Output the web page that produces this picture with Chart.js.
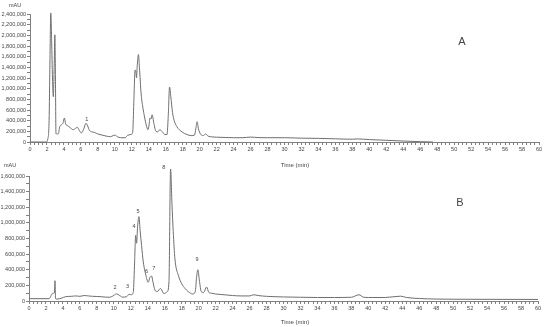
<!DOCTYPE html>
<html>
<head>
<meta charset="utf-8">
<script src="https://cdn.jsdelivr.net/npm/chart.js@4/dist/chart.umd.min.js"></script>
<style>
  body { margin: 0; background: #fff; }
  .panel { position: absolute; left: 0; }
</style>
</head>
<body>
<div class="panel" style="top:0px"><canvas id="chartA" width="550" height="170"></canvas></div>
<div class="panel" style="top:158px"><canvas id="chartB" width="550" height="169"></canvas></div>
<script>
// chromatogram A: retention time (min) and absorbance (mAU)
const timeA = [0, 1.9, 2.1, 2.25, 2.35, 2.45, 2.55, 2.65, 2.75, 2.85, 2.93, 3.0, 3.06, 3.15, 3.35, 3.5, 3.7, 3.9, 4.05, 4.2,
  4.5, 4.8, 5.1, 5.4, 5.6, 5.8, 6.05, 6.3, 6.6, 6.8, 7.0, 7.3, 7.6, 8.0, 8.5, 9.0, 9.5, 9.8, 10.0, 10.3,
  10.7, 11.2, 11.5, 11.9, 12.1, 12.25, 12.38, 12.48, 12.55, 12.65, 12.78, 12.9, 13.1, 13.3, 13.5, 13.7, 13.9, 14.0, 14.15, 14.25,
  14.4, 14.6, 14.85, 15.05, 15.3, 15.6, 15.9, 16.15, 16.3, 16.45, 16.6, 16.8, 17.0, 17.3, 17.6, 18.0, 18.5, 19.0, 19.4, 19.55,
  19.7, 19.85, 20.1, 20.4, 20.7, 21.0, 21.5, 22, 23, 24, 25, 26, 27, 28, 30, 32, 34, 36, 38, 38.6,
  40, 42, 44, 46, 47.5];
const signalA = [0, 0, 60000, 400000, 1500000, 2420000, 1900000, 1200000, 850000, 1400000, 2010000, 1200000, 160000, 150000, 155000, 290000, 320000, 360000, 450000, 340000,
  300000, 260000, 230000, 260000, 275000, 220000, 170000, 230000, 350000, 300000, 220000, 190000, 180000, 150000, 130000, 110000, 100000, 120000, 130000, 100000,
  80000, 80000, 125000, 140000, 180000, 800000, 1350000, 1320000, 1200000, 1450000, 1640000, 1400000, 900000, 650000, 470000, 320000, 230000, 280000, 450000, 430000,
  510000, 350000, 200000, 190000, 230000, 190000, 140000, 140000, 500000, 1030000, 850000, 550000, 400000, 290000, 230000, 180000, 140000, 120000, 130000, 250000,
  380000, 250000, 150000, 120000, 150000, 110000, 95000, 90000, 85000, 80000, 80000, 92000, 82000, 80000, 80000, 72000, 68000, 60000, 52000, 58000,
  45000, 32000, 18000, 6000, 0];
const peakNamesA = ['1'];
const peakTimesA = [6.7];
const peakLabelHeightsA = [420000];

// chromatogram B
const timeB = [0, 2.4, 2.6, 2.8, 3.0, 3.06, 3.13, 3.3, 3.8, 4.3, 5.0, 5.5, 6.0, 6.5, 7.0, 7.5, 8.0, 8.5, 9.0, 9.5,
  9.9, 10.3, 10.7, 11.0, 11.5, 11.8, 12.1, 12.3, 12.45, 12.57, 12.68, 12.8, 12.96, 13.1, 13.27, 13.47, 13.78, 14.05, 14.25, 14.45,
  14.6, 14.84, 15.1, 15.5, 15.9, 16.3, 16.5, 16.69, 16.85, 17.0, 17.2, 17.6, 18.0, 18.4, 18.77, 19.3, 19.6, 19.75, 19.9, 20.1,
  20.3, 20.6, 20.93, 21.2, 21.5, 22, 23, 24, 25, 26, 26.5, 27, 28, 30, 32, 34, 36, 38, 38.9, 39.4,
  40, 42, 43.8, 44.5, 46, 48, 52, 60];
const signalB = [30000, 30000, 70000, 100000, 105000, 260000, 30000, 25000, 35000, 55000, 60000, 65000, 60000, 70000, 65000, 60000, 58000, 55000, 50000, 48000,
  65000, 90000, 70000, 50000, 55000, 85000, 80000, 120000, 500000, 840000, 740000, 950000, 1080000, 900000, 710000, 500000, 330000, 240000, 300000, 320000,
  250000, 140000, 120000, 160000, 95000, 120000, 250000, 1690000, 1250000, 890000, 540000, 330000, 220000, 160000, 120000, 90000, 120000, 300000, 400000, 250000,
  120000, 110000, 180000, 110000, 100000, 90000, 80000, 70000, 65000, 65000, 80000, 70000, 60000, 52000, 48000, 45000, 45000, 48000, 80000, 50000,
  45000, 45000, 62000, 45000, 32000, 25000, 22000, 20000];
const peakNamesB = ['2', '3', '4', '5', '6', '7', '8', '9'];
const peakTimesB = [10.13, 11.6, 12.37, 12.84, 13.86, 14.72, 15.9, 19.82];
const peakLabelHeightsB = [170000, 180000, 950000, 1150000, 380000, 420000, 1710000, 530000];

const FONT = '"Liberation Sans", Arial, sans-serif';
const TEXT = '#444';
const AXIS = '#808080';
const TRACE = '#6e6e6e';

const chromText = {
  id: 'chromText',
  afterDraw(chart, args, opts) {
    const { ctx, chartArea, scales: { x, y } } = chart;
    ctx.save();
    ctx.fillStyle = TEXT;
    ctx.textAlign = 'center';
    ctx.textBaseline = 'middle';
    ctx.font = '5.5px ' + FONT;
    opts.names.forEach((n, i) => {
      ctx.fillText(n, x.getPixelForValue(opts.times[i]), y.getPixelForValue(opts.heights[i]));
    });
    ctx.fillText('mAU', chartArea.left + opts.unitDx, chartArea.top + opts.unitDy);
    ctx.font = '6px ' + FONT;
    ctx.fillText('Time (min)', opts.timeX, chartArea.bottom + opts.timeDy);
    ctx.font = '11px ' + FONT;
    ctx.fillText(opts.panel, x.getPixelForValue(opts.panelAt[0]), y.getPixelForValue(opts.panelAt[1]));
    ctx.restore();
  }
};

function drawChromatogram(id, times, signal, yMax, pad, text) {
  const ctx = document.getElementById(id).getContext('2d');
  return new Chart(ctx, {
    type: 'line',
    data: {
      datasets: [{
        data: times.map((t, i) => ({ x: t, y: signal[i] })),
        borderColor: TRACE,
        borderWidth: 1,
        pointRadius: 0,
        fill: false,
        cubicInterpolationMode: 'monotone',
        clip: false
      }]
    },
    options: {
      responsive: false,
      animation: false,
      devicePixelRatio: 1,
      layout: { padding: pad },
      plugins: {
        legend: { display: false },
        tooltip: { enabled: false },
        chromText: text
      },
      scales: {
        x: {
          type: 'linear',
          min: 0,
          max: 60,
          afterFit: s => { s.height = pad.xHeight; },
          border: { color: AXIS, width: 1 },
          grid: { drawOnChartArea: false, tickLength: 3, tickColor: AXIS },
          ticks: {
            stepSize: 0.5,
            autoSkip: false,
            maxRotation: 0,
            padding: 1,
            color: TEXT,
            font: { family: FONT, size: 5.5 },
            callback: v => (v % 2 === 0 ? String(v) : '')
          }
        },
        y: {
          min: 0,
          max: yMax,
          afterFit: s => { s.width = pad.yWidth; },
          border: { color: AXIS, width: 1 },
          grid: { drawOnChartArea: false, tickLength: 3, tickColor: AXIS },
          ticks: {
            stepSize: 100000,
            autoSkip: false,
            padding: 1,
            color: TEXT,
            font: { family: FONT, size: 5.5 },
            callback: v => (v % 200000 === 0 ? v.toLocaleString('en-US') : '')
          }
        }
      }
    },
    plugins: [chromText]
  });
}

drawChromatogram('chartA', timeA, signalA, 2400000,
  { top: 14, right: 11, left: 0, bottom: 0, yWidth: 30, xHeight: 28 },
  { names: peakNamesA, times: peakTimesA, heights: peakLabelHeightsA,
    unitDx: -15, unitDy: -9, timeX: 295, timeDy: 23, panel: 'A', panelAt: [50.9, 1880000] });

drawChromatogram('chartB', timeB, signalB, 1600000,
  { top: 18, right: 12, left: 0, bottom: 0, yWidth: 29, xHeight: 26 },
  { names: peakNamesB, times: peakTimesB, heights: peakLabelHeightsB,
    unitDx: -19, unitDy: -11, timeX: 295, timeDy: 21, panel: 'B', panelAt: [50.8, 1250000] });
</script>
</body>
</html>
